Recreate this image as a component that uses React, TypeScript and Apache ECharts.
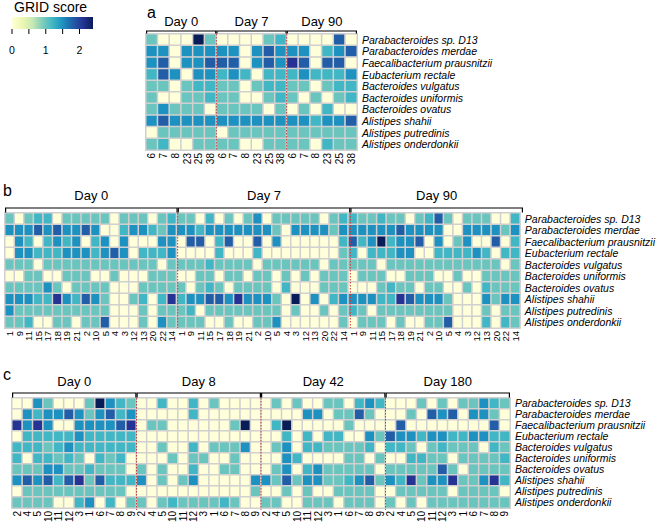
import React, { useEffect, useRef } from 'react';
import * as echarts from 'echarts';

const species = [
  'Parabacteroides sp. D13', 'Parabacteroides merdae', 'Faecalibacterium prausnitzii', 'Eubacterium rectale',
  'Bacteroides vulgatus', 'Bacteroides uniformis', 'Bacteroides ovatus', 'Alistipes shahii',
  'Alistipes putredinis', 'Alistipes onderdonkii',
];

// ---------- Panel a ----------
const panelASubjects = ['6', '7', '8', '23', '25', '38'];
const panelADays = ['Day 0', 'Day 7', 'Day 90'];
const aDay0 = [
  [1, 0, 0, 0, 2.4, 1],
  [1.5, 1.5, 0, 1.5, 1.5, 1.5],
  [1.5, 1.8, 0, 1.5, 1.5, 1.8],
  [1.2, 1.8, 1.5, 0, 1.5, 1.5],
  [1, 1, 0, 1, 1.2, 1.2],
  [1, 0, 0, 1, 1, 1.2],
  [1, 1.5, 1, 1, 1, 0],
  [1.5, 1.8, 1.5, 1.5, 1.5, 1.5],
  [0, 1, 1, 1, 1, 1],
  [1, 1.2, 0, 0, 1, 1],
];
const aDay7 = [
  [0, 0, 0, 0, 1, 1.2],
  [1.5, 1.5, 0, 1.5, 1.8, 1.5],
  [1.8, 1.8, 0, 1.5, 1.8, 1.5],
  [1.2, 1.5, 1.2, 0, 1.2, 1.2],
  [1, 1, 0, 1, 1.2, 1.2],
  [1, 1, 0, 0, 1, 1.2],
  [1, 1, 1, 1, 0, 1],
  [1.5, 1.5, 1.5, 1.5, 1.5, 1.5],
  [0, 1, 1, 1, 1, 1],
  [1, 1, 0, 0, 1, 1],
];
const aDay90 = [
  [0, 0, 0, 0, 1.8, 0],
  [1.5, 1.5, 0, 1.2, 1.5, 1.8],
  [2.1, 1.8, 0, 1.8, 1.8, 0],
  [1.2, 1.5, 1.2, 1.2, 1.2, 1.5],
  [1, 1, 0, 1, 1.2, 1.2],
  [1, 0, 1, 0, 1, 1.2],
  [0, 1, 0, 1.2, 0, 0],
  [1.5, 1.5, 1.2, 1.5, 1.5, 1.8],
  [1, 1, 1, 1, 1, 1],
  [1, 1, 0, 1.2, 1, 1],
];

// ---------- Panel b ----------
const panelBSubjects = ['1', '9', '11', '15', '17', '18', '19', '21', '2', '10', '5', '4', '3', '12', '13', '20', '22', '14'];
const panelBDays = ['Day 0', 'Day 7', 'Day 90'];
const bDay0 = [
  [1, 0, 1, 1.2, 1.2, 0, 1, 1, 1, 1, 1, 0, 1, 1, 1, 0, 1, 1.2],
  [1.5, 1.5, 1.5, 1.8, 1.5, 1.8, 1.5, 1.5, 1.8, 1.5, 0, 0, 1.2, 1.5, 1.5, 1.2, 1, 1.5],
  [0, 1.5, 1.2, 0, 1.2, 1.5, 1.2, 1.5, 0, 1.2, 1.5, 0, 1.5, 0, 0, 0, 1.5, 1.5],
  [0, 1.5, 1.5, 1.2, 1.2, 1.2, 1.5, 1.5, 1.5, 1.2, 1.5, 1.8, 1.5, 0, 1.2, 1.2, 1.2, 1.5],
  [1, 1, 1, 0, 1, 1, 1, 1, 1, 1, 1, 1, 1, 1, 1, 1, 0, 1],
  [0, 0, 1, 1, 0, 0, 1, 1, 1, 0, 0, 1, 0, 0, 0, 1, 1, 1],
  [1, 1, 1, 1, 1.5, 1, 0, 1, 1, 1, 1, 0, 0, 0, 1, 1, 1, 1],
  [1.5, 1.5, 1.5, 1.2, 1.2, 2.1, 1.5, 1.2, 1.8, 1.5, 1, 0, 0, 1, 1.2, 0, 1.2, 2.1],
  [1.5, 1, 1, 1, 1, 1, 1, 1, 1, 1, 1, 0, 0, 0, 1, 0, 1, 1],
  [1, 1, 1.2, 0, 0, 1, 1, 0, 1, 1, 1.8, 0, 0, 0, 1, 0, 1.5, 1],
];
const bDay7 = [
  [1, 1, 0, 1.2, 0, 1, 0, 1, 1.5, 0, 1, 1, 1, 1, 1, 0, 1, 1.2],
  [1.5, 1.5, 1.2, 1.5, 1.5, 1.5, 1.5, 1.5, 1.5, 1.5, 1, 0, 1.5, 1.5, 1.5, 1.5, 1, 1.5],
  [0, 1.8, 1.8, 0, 1.2, 1.8, 0, 0, 1.8, 0, 1.5, 0, 0, 0, 0, 0, 0, 1.2],
  [0, 0, 0, 0, 1.2, 0, 0, 0, 1.2, 0, 0, 0, 0, 0, 0, 0, 0, 1],
  [1, 1, 1, 1.2, 1, 1, 1, 1, 0, 1, 1, 1, 1, 1, 1, 0, 1, 1],
  [0, 0, 1, 1, 0, 1, 1, 0, 1, 1, 0, 1, 0, 1, 0, 1, 1, 1],
  [1, 0, 1, 1.2, 1, 0, 1, 1, 1, 1, 0, 1.2, 0, 0, 0, 1, 1, 1],
  [1.2, 1.5, 1.5, 1.8, 1.8, 1.5, 2.1, 1.5, 1.5, 1.5, 1, 0, 2.4, 0, 1.5, 0, 1.2, 1.5],
  [1, 1.2, 0, 1, 1, 1, 1, 1, 1, 1, 1, 0, 1, 0, 0, 1, 0, 1],
  [1, 1, 1, 0, 0, 1, 0, 0, 1, 1, 1.5, 0, 0, 0, 0, 0, 0, 1],
];
const bDay90 = [
  [1.2, 1, 1, 1.2, 1, 1, 0, 1, 1.2, 1.8, 1, 0, 1, 1, 1, 0, 0, 1.2],
  [1.5, 1.5, 1.5, 1.5, 1.5, 1.8, 1.5, 1.5, 1.5, 1.5, 0, 0, 1.5, 1.5, 1.5, 1.5, 1, 1.5],
  [1.8, 1.2, 1.5, 2.4, 1.2, 1.5, 1.5, 1.8, 0, 1.5, 0, 1, 1.5, 0, 0, 1.8, 0, 1.2],
  [1.2, 0, 1.2, 1.2, 1.2, 1.5, 1.5, 0, 0, 1.2, 1.2, 1.2, 1.2, 1.5, 1.2, 0, 1.2, 1.2],
  [1, 1, 1, 0, 1, 1, 1, 1, 1, 1, 1, 1, 1, 1, 1, 1, 0, 1],
  [0, 1, 1, 1, 0, 0, 1, 1, 1, 0, 0, 1, 0, 0, 1, 1, 1, 1],
  [0, 0, 0, 1, 1.2, 1, 1, 0, 1, 1, 0, 0, 1, 0, 1.2, 1, 1, 1],
  [1.5, 1.5, 1.5, 1.2, 1.2, 2.1, 1.8, 1.5, 1.5, 1.5, 1, 0, 0, 0, 1.5, 1, 1.5, 1.5],
  [1.2, 1, 0, 1, 1, 1, 1, 1, 1, 1, 1, 0, 0, 0, 1, 0, 1, 1],
  [0, 1, 1, 1, 0, 1, 0, 0, 1, 1, 1.8, 0, 0, 0, 1.2, 0, 1.2, 1],
];

// ---------- Panel c ----------
const panelCSubjects = ['2', '4', '5', '10', '11', '12', '3', '1', '6', '7', '8', '9'];
const panelCDays = ['Day 0', 'Day 8', 'Day 42', 'Day 180'];
const cDay0 = [
  [0, 0, 1.5, 1, 0, 0, 0, 1, 2.4, 1.5, 1.2, 1],
  [0, 1.5, 1.2, 1.5, 1.5, 1.8, 1.5, 1, 1.5, 1.8, 1.2, 1.5],
  [2.1, 1.5, 2.1, 1.5, 0, 0, 1.5, 1.5, 1.5, 1.5, 1.8, 2.1],
  [0, 1.2, 1.2, 1.2, 1.2, 1.2, 1.5, 1.2, 1.2, 1.2, 1.2, 1.2],
  [1.2, 1.2, 1.2, 1, 1.2, 1.5, 1.2, 1.2, 1.2, 1.2, 1.2, 1.2],
  [1.2, 0, 1.2, 1.2, 1, 1.2, 1, 0, 1.2, 1, 1.2, 0],
  [1, 1, 1, 1.5, 1.5, 1, 1, 1.2, 1, 1, 1, 0],
  [1.5, 1.8, 1.5, 1.8, 1.2, 1.8, 2.1, 1, 1.8, 1.2, 1.2, 1.2],
  [0, 1, 1, 1, 1, 1, 1, 1, 1, 1, 1, 0],
  [1, 1, 1, 1, 0, 0, 1.2, 1.5, 0, 1.2, 0, 1],
];
const cDay8 = [
  [0, 0, 1.2, 0, 0, 1.2, 0, 1, 0, 0, 0, 0],
  [0, 0, 0, 0, 0, 1.2, 0, 0, 0, 0, 0, 0],
  [0, 1, 1, 0, 0, 0, 0, 0, 0, 1, 2.4, 0],
  [0, 0, 0, 0, 0, 0, 0, 0, 0, 0, 0, 0],
  [0, 0, 1, 0, 0, 1.2, 0, 1, 1, 1, 1.5, 0],
  [0, 0, 0, 1, 0, 1, 1, 0, 0, 1, 0, 0],
  [1, 0, 1, 0, 0, 1.2, 0, 0, 1, 1, 0, 0],
  [1.5, 0, 1, 0, 1, 1.5, 0, 0, 0, 0, 0, 1.5],
  [0, 0, 0, 0, 0, 0, 0, 0, 0, 0, 0, 1],
  [1, 0, 1, 1.2, 1, 1, 1, 1, 1.2, 1, 0, 0],
];
const cDay42 = [
  [0, 1, 0, 1, 0, 0, 1, 1, 0, 1.2, 1.5, 1.2],
  [0, 0, 0, 0, 1.5, 1.5, 0, 1, 1, 1.8, 1, 0],
  [0, 1.2, 2.4, 0, 0, 0, 0, 0, 1, 0, 0, 0],
  [0, 0, 1.2, 0, 1.2, 0, 1.2, 1.2, 0, 0, 1.5, 1],
  [0, 1, 1.5, 0, 1.2, 1.2, 1, 1, 1, 1, 1.2, 0],
  [0, 0, 1.5, 1.2, 0, 0, 0, 0, 1, 1, 0, 1],
  [0, 1, 1.5, 0, 1.2, 1.5, 1, 1, 1, 1, 1, 0],
  [1.5, 1, 1.8, 1, 1.5, 1.5, 1, 1, 1.2, 1.5, 1.8, 1],
  [0, 0, 1, 0, 1, 0, 0, 1, 1, 1, 1, 0],
  [1, 1, 0, 0, 1, 1, 1, 0, 1, 1, 1, 0],
];
const cDay180 = [
  [0, 0, 0, 1, 0, 1, 0, 1, 1, 1.5, 1.2, 1],
  [0, 0, 1, 0, 1.8, 1.5, 1.8, 0, 1.5, 1.5, 1, 0],
  [0, 1.8, 0, 0, 0, 0, 0, 0, 0, 0, 1.8, 0],
  [1.8, 1.5, 1.5, 1.2, 1.5, 1.5, 1.2, 1.2, 1.5, 1.5, 1.2, 1.2],
  [1.2, 1.2, 1, 0, 1, 1.2, 1, 1, 1, 0, 1.2, 1],
  [0, 0, 1.2, 1.2, 1, 1, 0, 1, 1, 1, 1, 1.2],
  [1, 1, 1, 1, 1, 1.8, 1, 0, 1, 1, 1, 1],
  [1.5, 1.2, 2.1, 1, 1.5, 1.5, 2.1, 1, 1, 1.5, 2.1, 1.2],
  [0, 1, 1, 1, 1, 1, 0, 1, 1, 1, 1, 0],
  [1, 0, 1, 0, 1, 1, 1, 1, 1, 1, 1, 1],
];

// ---------- colour scale ----------
const scoreColors = ['#ffffd9', '#edf8b1', '#c7e9b4', '#7fcdbb', '#41b6c4', '#1d91c0', '#225ea8', '#253494', '#081d58'];
const scoreMin = 0;
const scoreMax = 2.4;
const legendTickValues = [0, 0.5, 1, 1.5, 2];
const legendLabelValues = [0, 1, 2];

const FONT = "'Liberation Sans', Arial, Helvetica, sans-serif";

type Panel = {
  letter: string;
  days: string[];
  subjects: string[];
  groups: number[][][];
  box: { left: number; top: number; width: number; height: number };
  bracketGap: number;
  labelGap: number;
  letterPos: [number, number];
  xFont: number;
};

const panels: Panel[] = [
  {
    letter: 'a', days: panelADays, subjects: panelASubjects, groups: [aDay0, aDay7, aDay90],
    box: { left: 146, top: 34, width: 211, height: 116 }, bracketGap: 3, labelGap: 13,
    letterPos: [147, 12], xFont: 10,
  },
  {
    letter: 'b', days: panelBDays, subjects: panelBSubjects, groups: [bDay0, bDay7, bDay90],
    box: { left: 5, top: 213, width: 518, height: 115 }, bracketGap: 5, labelGap: 18,
    letterPos: [3, 190], xFont: 9.5,
  },
  {
    letter: 'c', days: panelCDays, subjects: panelCSubjects, groups: [cDay0, cDay8, cDay42, cDay180],
    box: { left: 12, top: 398, width: 498, height: 112 }, bracketGap: 5, labelGap: 17,
    letterPos: [3, 374], xFont: 10,
  },
];

function buildOption() {
  const grids: any[] = [];
  const xAxes: any[] = [];
  const yAxes: any[] = [];
  const series: any[] = [];
  const graphics: any[] = [];

  panels.forEach((p, pi) => {
    grids.push({ left: p.box.left, top: p.box.top, width: p.box.width, height: p.box.height, containLabel: false });
    const cats: string[] = [];
    p.groups.forEach((_g, gi) => p.subjects.forEach((s) => cats.push(gi + '|' + s)));
    const data: number[][] = [];
    p.groups.forEach((g, gi) =>
      g.forEach((row, ri) => row.forEach((v, si) => data.push([gi * p.subjects.length + si, ri, v])))
    );
    xAxes.push({
      type: 'category', gridIndex: pi, data: cats, position: 'bottom',
      axisLine: { show: false }, axisTick: { show: false }, splitLine: { show: false },
      axisLabel: {
        interval: 0, rotate: 90, formatter: (v: string) => v.split('|')[1],
        fontSize: p.xFont, color: '#000', fontFamily: FONT, margin: 3,
      },
    });
    yAxes.push({
      type: 'category', gridIndex: pi, data: species, inverse: true, position: 'right',
      axisLine: { show: false }, axisTick: { show: false }, splitLine: { show: false },
      axisLabel: { interval: 0, fontSize: 10.5, fontStyle: 'italic', color: '#000', fontFamily: FONT, margin: 5 },
    });
    series.push({
      type: 'heatmap', xAxisIndex: pi, yAxisIndex: pi, data,
      itemStyle: { borderColor: '#d0d0d0', borderWidth: 1.5 },
      emphasis: { disabled: true },
    });

    const n = cats.length;
    const cw = p.box.width / n;
    const top = p.box.top;
    const yb = top - p.bracketGap;
    p.days.forEach((d, gi) => {
      const x0 = p.box.left + gi * p.subjects.length * cw;
      const x1 = x0 + p.subjects.length * cw;
      graphics.push({
        type: 'polyline', z: 20,
        shape: { points: [[x0 + 0.6, top - 0.5], [x0 + 0.6, yb], [x1 - 0.6, yb], [x1 - 0.6, top - 0.5]] },
        style: { stroke: '#000', lineWidth: 1.2, fill: null },
      });
      graphics.push({
        type: 'text', z: 20, x: (x0 + x1) / 2, y: top - p.labelGap,
        style: { text: d, fontSize: 13, fontFamily: FONT, fill: '#000', align: 'center', verticalAlign: 'middle' },
      });
      if (gi > 0) {
        graphics.push({
          type: 'line', z: 30,
          shape: { x1: x0, y1: top, x2: x0, y2: top + p.box.height },
          style: { stroke: '#c83a3a', lineWidth: 1, lineDash: [1.5, 1.5] },
        });
      }
    });
    graphics.push({
      type: 'text', z: 20, x: p.letterPos[0], y: p.letterPos[1],
      style: { text: p.letter, fontSize: 16, fontFamily: FONT, fill: '#000', align: 'left', verticalAlign: 'middle' },
    });
  });

  // colour legend
  const barL = 12, barT = 17, barW = 81, barH = 12;
  graphics.push({ type: 'text', x: 14, y: 7, style: { text: 'GRID score', fontSize: 14, fontFamily: FONT, fill: '#000', verticalAlign: 'middle' } });
  graphics.push({
    type: 'rect', shape: { x: barL, y: barT, width: barW, height: barH },
    style: {
      fill: new echarts.graphic.LinearGradient(0, 0, 1, 0,
        scoreColors.map((c, i) => ({ offset: i / (scoreColors.length - 1), color: c }))),
    },
  });
  legendTickValues.forEach((t) => {
    const x = barL + ((t - scoreMin) / (scoreMax - scoreMin)) * barW;
    graphics.push({ type: 'line', shape: { x1: x, y1: barT + barH, x2: x, y2: barT + barH + 5 }, style: { stroke: '#000', lineWidth: 1 } });
  });
  legendLabelValues.forEach((t) => {
    const x = barL + ((t - scoreMin) / (scoreMax - scoreMin)) * barW;
    graphics.push({ type: 'text', x, y: 50, style: { text: String(t), fontSize: 10.5, fontFamily: FONT, fill: '#000', align: 'center', verticalAlign: 'middle' } });
  });

  return {
    animation: false,
    backgroundColor: '#ffffff',
    grid: grids,
    xAxis: xAxes,
    yAxis: yAxes,
    visualMap: {
      type: 'continuous', show: false, min: scoreMin, max: scoreMax, dimension: 2,
      seriesIndex: [0, 1, 2], inRange: { color: scoreColors },
    },
    series,
    graphic: graphics,
  };
}

export default function App() {
  const ref = useRef<HTMLDivElement>(null);
  useEffect(() => {
    if (!ref.current) return;
    const chart = echarts.init(ref.current, undefined, { renderer: 'svg' });
    chart.setOption(buildOption() as any);
    return () => chart.dispose();
  }, []);
  return <div ref={ref} style={{ position: 'fixed', left: 0, top: 0, width: 658, height: 525 }} />;
}
